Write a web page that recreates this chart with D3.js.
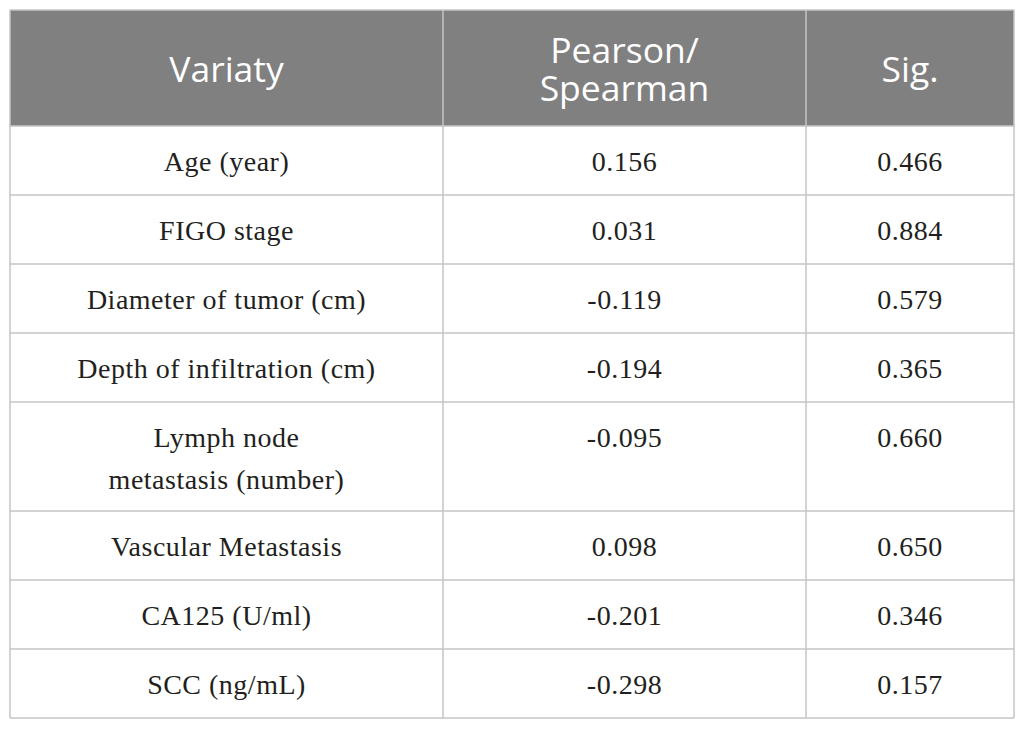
<!DOCTYPE html>
<html lang="en">
<head>
  <meta charset="UTF-8" />
  <title>Correlation table</title>
  <style>
    body { margin: 0; background: #fff; }
    svg { display: block; }
  </style>
  <script src="https://cdn.jsdelivr.net/npm/d3@7"></script>
</head>
<body>
<script>
  // table contents
  const headers = [["Variaty"], ["Pearson/", "Spearman"], ["Sig."]];
  const variables = [
    ["Age (year)"],
    ["FIGO stage"],
    ["Diameter of tumor (cm)"],
    ["Depth of infiltration (cm)"],
    ["Lymph node", "metastasis (number)"],
    ["Vascular Metastasis"],
    ["CA125 (U/ml)"],
    ["SCC (ng/mL)"]
  ];
  const pearson = ["0.156", "0.031", "-0.119", "-0.194", "-0.095", "0.098", "-0.201", "-0.298"];
  const sig = ["0.466", "0.884", "0.579", "0.365", "0.660", "0.650", "0.346", "0.157"];

  const W = 1025, H = 730;
  const tLeft = 10, tRight = 1014, tTop = 10, headH = 116;
  const baseRow = 69, extraLine = 40;
  const lineColor = "#c4c4c4";

  // column edges in table units
  const colEdges = [0, 433, 796, 1004];
  const x = d3.scaleLinear().domain([0, 1004]).range([tLeft, tRight]);

  const rows = variables.map((v, i) => ({ lines: v, r: pearson[i], p: sig[i] }));
  let yAcc = tTop + headH;
  rows.forEach(d => {
    d.y0 = yAcc;
    d.h = baseRow + (d.lines.length - 1) * extraLine;
    yAcc += d.h;
  });
  const tBottom = yAcc;

  const svg = d3.select("body").append("svg")
    .attr("width", W).attr("height", H);

  // header band
  svg.append("rect")
    .attr("x", tLeft).attr("y", tTop)
    .attr("width", tRight - tLeft).attr("height", headH)
    .attr("fill", "#808080");

  const headG = svg.append("g");
  headers.forEach((lines, c) => {
    const cx = (x(colEdges[c]) + x(colEdges[c + 1])) / 2;
    const lh = 38;
    const base = 82 - (lines.length - 1) * lh / 2;
    const t = headG.append("text")
      .attr("text-anchor", "middle")
      .attr("font-family", "'Open Sans', 'Noto Sans', sans-serif")
      .attr("font-size", 35.5)
      .attr("fill", "#fff");
    lines.forEach((s, k) => {
      t.append("tspan").attr("x", cx).attr("y", base + k * lh).text(s);
    });
  });

  // body cells
  const bodyFont = "'Liberation Serif', 'Times New Roman', serif";
  const rowG = svg.append("g").selectAll("g").data(rows).join("g");

  const cellText = (sel, getLines, c) => {
    const cx = (x(colEdges[c]) + x(colEdges[c + 1])) / 2;
    sel.append("text")
      .attr("text-anchor", "middle")
      .attr("font-family", bodyFont)
      .attr("font-size", 28)
      .attr("letter-spacing", 0.5)
      .attr("fill", "#231f20")
      .each(function (d) {
        const t = d3.select(this);
        getLines(d).forEach((s, k) => {
          t.append("tspan").attr("x", cx)
            .attr("y", d.y0 + 45 + k * 42).text(s);
        });
      });
  };
  cellText(rowG, d => d.lines, 0);
  cellText(rowG, d => [d.r], 1);
  cellText(rowG, d => [d.p], 2);

  // grid lines
  const grid = svg.append("g")
    .attr("stroke", lineColor).attr("stroke-width", 1.5).attr("fill", "none");
  grid.selectAll("line.h").data(rows.map(d => d.y0).concat([tBottom]))
    .join("line").attr("class", "h")
    .attr("x1", tLeft).attr("x2", tRight)
    .attr("y1", d => d).attr("y2", d => d);
  grid.selectAll("line.v").data(colEdges)
    .join("line").attr("class", "v")
    .attr("x1", d => x(d)).attr("x2", d => x(d))
    .attr("y1", tTop).attr("y2", tBottom);
  grid.append("line")
    .attr("x1", tLeft).attr("x2", tRight)
    .attr("y1", tTop).attr("y2", tTop);
</script>
</body>
</html>
